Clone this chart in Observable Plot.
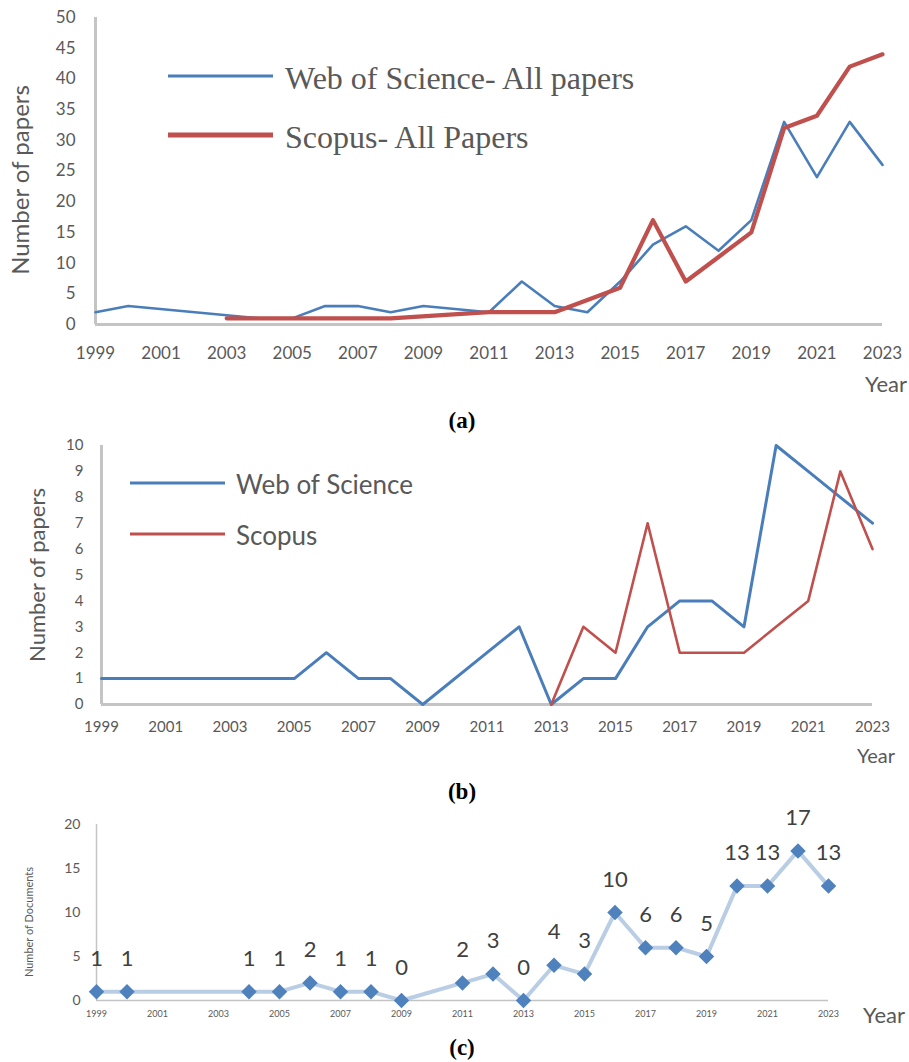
<!DOCTYPE html>
<html>
<head>
<meta charset="utf-8">
<script src="https://cdn.jsdelivr.net/npm/d3@7"></script>
<script src="https://cdn.jsdelivr.net/npm/@observablehq/plot@0.6"></script>
<style>
  html, body { margin: 0; padding: 0; background: #fff; }
  #root { position: relative; width: 909px; height: 1062px; background: #fff; overflow: hidden; }
  .abs { position: absolute; white-space: nowrap; }
  .plot { position: absolute; left: 0; }
</style>
</head>
<body>
<div id="root"></div>
<script>
// ---------- DATA ----------
// Panel (a): all papers
const wosAYears   = [1999, 2000, 2004, 2005, 2006, 2007, 2008, 2009, 2011, 2012, 2013, 2014, 2015, 2016, 2017, 2018, 2019, 2020, 2021, 2022, 2023];
const wosAValues  = [2, 3, 1, 1, 3, 3, 2, 3, 2, 7, 3, 2, 7, 13, 16, 12, 17, 33, 24, 33, 26];
const scoAYears   = [2003, 2004, 2005, 2006, 2007, 2008, 2011, 2012, 2013, 2014, 2015, 2016, 2017, 2018, 2019, 2020, 2021, 2022, 2023];
const scoAValues  = [1, 1, 1, 1, 1, 1, 2, 2, 2, 4, 6, 17, 7, 11, 15, 32, 34, 42, 44];
// Panel (b)
const wosBYears   = [1999, 2000, 2004, 2005, 2006, 2007, 2008, 2009, 2011, 2012, 2013, 2014, 2015, 2016, 2017, 2018, 2019, 2020, 2021, 2022, 2023];
const wosBValues  = [1, 1, 1, 1, 2, 1, 1, 0, 2, 3, 0, 1, 1, 3, 4, 4, 3, 10, 9, 8, 7];
const scoBYears   = [2013, 2014, 2015, 2016, 2017, 2018, 2019, 2020, 2021, 2022, 2023];
const scoBValues  = [0, 3, 2, 7, 2, 2, 2, 3, 4, 9, 6];
// Panel (c)
const docYears    = [1999, 2000, 2004, 2005, 2006, 2007, 2008, 2009, 2011, 2012, 2013, 2014, 2015, 2016, 2017, 2018, 2019, 2020, 2021, 2022, 2023];
const docValues   = [1, 1, 1, 1, 2, 1, 1, 0, 2, 3, 0, 4, 3, 10, 6, 6, 5, 13, 13, 17, 13];
// Ticks
const xTickYears  = [1999, 2001, 2003, 2005, 2007, 2009, 2011, 2013, 2015, 2017, 2019, 2021, 2023];
const yTicksA     = [0, 5, 10, 15, 20, 25, 30, 35, 40, 45, 50];
const yTicksB     = [0, 1, 2, 3, 4, 5, 6, 7, 8, 9, 10];
const yTicksC     = [0, 5, 10, 15, 20];
// Labels
const legendA = ["Web of Science- All papers", "Scopus- All Papers"];
const legendB = ["Web of Science", "Scopus"];

const zip = (xs, ys) => xs.map((x, i) => ({year: x, value: ys[i]}));

const BLUE = "#4a7ebb", RED = "#c0504d", AXIS = "#c4c4c4", TXT = "#595959";
const root = document.getElementById("root");

function place(el, top) { el.classList.add("plot"); el.style.top = top + "px"; root.appendChild(el); }
function addText(str, x, y, css, anchor = "left", rot = 0) {
  const d = document.createElement("div");
  d.className = "abs";
  d.textContent = str;
  Object.assign(d.style, css);
  d.style.left = x + "px"; d.style.top = y + "px";
  const tx = anchor === "center" ? "-50%" : anchor === "right" ? "-100%" : "0";
  d.style.transform = `translate(${tx}, -50%)` + (rot ? ` rotate(${rot}deg)` : "");
  d.style.lineHeight = "1";
  root.appendChild(d);
  return d;
}
function addLegendLine(x1, x2, y, color, w) {
  const s = document.createElementNS("http://www.w3.org/2000/svg", "svg");
  s.setAttribute("width", x2 - x1); s.setAttribute("height", 10);
  s.style.position = "absolute"; s.style.left = x1 + "px"; s.style.top = (y - 5) + "px";
  const l = document.createElementNS("http://www.w3.org/2000/svg", "line");
  l.setAttribute("x1", 0); l.setAttribute("x2", x2 - x1); l.setAttribute("y1", 5); l.setAttribute("y2", 5);
  l.setAttribute("stroke", color); l.setAttribute("stroke-width", w);
  s.appendChild(l); root.appendChild(s);
}

// ---------- PANEL (a) ----------
const pa = Plot.plot({
  width: 909, height: 370,
  marginTop: 17, marginBottom: 46, marginLeft: 95, marginRight: 27,
  style: {fontFamily: "Lato", fontSize: "17px", color: TXT, background: "transparent", overflow: "visible"},
  x: {domain: [1999, 2023]},
  y: {domain: [0, 50]},
  marks: [
    Plot.ruleX([1999], {y1: 0, y2: 50, stroke: AXIS, strokeWidth: 3}),
    Plot.ruleY([0], {x1: 1999, x2: 2023, stroke: AXIS, strokeWidth: 3}),
    Plot.axisX({ticks: xTickYears, tickFormat: d => String(d), tickSize: 0, tickPadding: 22, label: null}),
    Plot.axisY({ticks: yTicksA, tickSize: 0, tickPadding: 20, label: null}),
    Plot.line(zip(wosAYears, wosAValues), {x: "year", y: "value", stroke: BLUE, strokeWidth: 2.6}),
    Plot.line(zip(scoAYears, scoAValues), {x: "year", y: "value", stroke: RED, strokeWidth: 4.2})
  ]
});
place(pa, 0);
addText("Number of papers", 20, 180, {fontFamily: "Lato", fontSize: "24px", color: TXT}, "center", -90);
addText("Year", 907, 384, {fontFamily: "Lato", fontSize: "22px", color: TXT}, "right");
addText("(a)", 462, 420, {fontFamily: "Liberation Serif", fontWeight: "bold", fontSize: "23px", color: "#000"}, "center");
addLegendLine(168, 273, 76, BLUE, 3);
addText(legendA[0], 285, 78, {fontFamily: "Liberation Serif", fontSize: "32px", color: TXT});
addLegendLine(168, 273, 135, RED, 5);
addText(legendA[1], 285, 137, {fontFamily: "Liberation Serif", fontSize: "32px", color: TXT});

// ---------- PANEL (b) ----------
const pb = Plot.plot({
  width: 909, height: 330,
  marginTop: 25, marginBottom: 46, marginLeft: 101, marginRight: 37,
  style: {fontFamily: "Lato", fontSize: "15px", color: TXT, background: "transparent", overflow: "visible"},
  x: {domain: [1999, 2023]},
  y: {domain: [0, 10]},
  marks: [
    Plot.ruleX([1999], {y1: 0, y2: 10, stroke: AXIS, strokeWidth: 3}),
    Plot.ruleY([0], {x1: 1999, x2: 2023, stroke: AXIS, strokeWidth: 3}),
    Plot.axisX({ticks: xTickYears, tickFormat: d => String(d), tickSize: 0, tickPadding: 17, label: null}),
    Plot.axisY({ticks: yTicksB, tickSize: 0, tickPadding: 18, label: null}),
    Plot.line(zip(wosBYears, wosBValues), {x: "year", y: "value", stroke: BLUE, strokeWidth: 3}),
    Plot.line(zip(scoBYears, scoBValues), {x: "year", y: "value", stroke: RED, strokeWidth: 2.6})
  ]
});
place(pb, 420);
addText("Number of papers", 37, 575, {fontFamily: "Lato", fontSize: "22px", color: TXT}, "center", -90);
addText("Year", 895, 755, {fontFamily: "Lato", fontSize: "20px", color: TXT}, "right");
addText("(b)", 462, 791, {fontFamily: "Liberation Serif", fontWeight: "bold", fontSize: "23px", color: "#000"}, "center");
addLegendLine(130, 225, 483, BLUE, 3);
addText(legendB[0], 236, 484, {fontFamily: "Lato", fontSize: "26px", color: TXT});
addLegendLine(130, 225, 534, RED, 3);
addText(legendB[1], 236, 535, {fontFamily: "Lato", fontSize: "26px", color: TXT});

// ---------- PANEL (c) ----------
const docs = zip(docYears, docValues);
const pc = Plot.plot({
  width: 909, height: 230,
  marginTop: 24, marginBottom: 30, marginLeft: 96, marginRight: 81,
  style: {fontFamily: "Lato", fontSize: "14px", color: TXT, background: "transparent", overflow: "visible"},
  x: {domain: [1999, 2023]},
  y: {domain: [0, 20]},
  marks: [
    Plot.ruleX([1999], {y1: 0, y2: 20, stroke: AXIS, strokeWidth: 1.5}),
    Plot.ruleY([0], {x1: 1999, x2: 2023, stroke: AXIS, strokeWidth: 1.5}),
    Plot.axisX({ticks: xTickYears, tickFormat: d => String(d), tickSize: 0, tickPadding: 10, fontSize: 9, label: null}),
    Plot.axisY({ticks: yTicksC, tickSize: 0, tickPadding: 16, label: null}),
    Plot.line(docs, {x: "year", y: "value", stroke: "#b9cde5", strokeWidth: 4}),
    Plot.dot(docs, {x: "year", y: "value", symbol: "diamond2", fill: "#4f81bd", stroke: "none", r: 7}),
    Plot.text(docs, {x: "year", y: "value", text: d => String(d.value), dy: -33, fontSize: 22, fill: "#404040"})
  ]
});
place(pc, 800);
addText("Number of Documents", 28, 922, {fontFamily: "Lato", fontSize: "11px", color: TXT}, "center", -90);
addText("Year", 905, 1015, {fontFamily: "Lato", fontSize: "22px", color: TXT}, "right");
addText("(c)", 462, 1047, {fontFamily: "Liberation Serif", fontWeight: "bold", fontSize: "23px", color: "#000"}, "center");
</script>
</body>
</html>
